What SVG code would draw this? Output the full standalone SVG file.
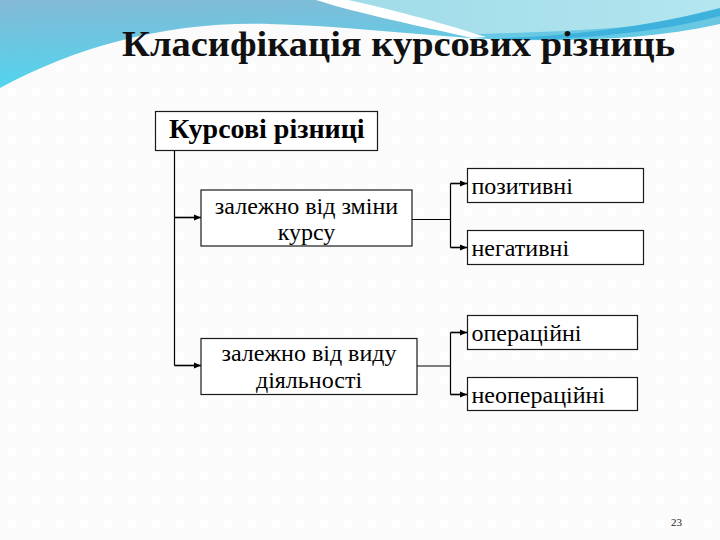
<svg xmlns="http://www.w3.org/2000/svg" width="720" height="540" viewBox="0 0 720 540">
  <defs>
    <pattern id="dots" x="8" y="16" width="24" height="24" patternUnits="userSpaceOnUse">
      <rect x="0" y="0" width="8" height="8" fill="#ffffff"/>
    </pattern>
    <linearGradient id="blueL" x1="0" y1="0" x2="0.25" y2="1">
      <stop offset="0" stop-color="#84b9d5"/>
      <stop offset="1" stop-color="#4fd6f0"/>
    </linearGradient>
    <linearGradient id="blueR" x1="0" y1="0" x2="1" y2="0">
      <stop offset="0" stop-color="#9fdbe8"/>
      <stop offset="1" stop-color="#b3e6ef"/>
    </linearGradient>
    <marker id="arr" markerWidth="8" markerHeight="8" refX="7" refY="4" orient="auto" markerUnits="userSpaceOnUse">
      <path d="M0,1 L7,4 L0,7 Z" fill="#000"/>
    </marker>
    <style>
      .box { fill: #ffffff; stroke: #1a1a1a; stroke-width: 1.2; }
      .t { font-family: 'Liberation Serif', 'DejaVu Serif', serif; font-size: 24px; fill: #000; }
      .tb { font-family: 'Liberation Serif', 'DejaVu Serif', serif; font-size: 28px; font-weight: bold; fill: #000; }
      .ttl { font-family: 'Liberation Serif', 'DejaVu Serif', serif; font-size: 35px; font-weight: bold; fill: #111; }
      .pg { font-family: 'Liberation Serif', 'DejaVu Serif', serif; font-size: 11px; fill: #222; }
      .c { text-anchor: middle; }
      .ln { fill: none; stroke: #000; stroke-width: 1.2; }
      .ar { fill: none; stroke: #000; stroke-width: 1.6; marker-end: url(#arr); }
    </style>
  </defs>

  <!-- background -->
  <rect x="0" y="0" width="720" height="540" fill="#fbfbfb"/>
  <rect x="0" y="0" width="720" height="540" fill="url(#dots)"/>

  <!-- top decorative wave -->
  <path d="M0,0 L720,0 L720,24 C640,42 545,42 470,38 C400,33 340,26 270,24 C170,21 80,45 0,88 Z" fill="url(#blueL)"/>
  <path d="M330,0 L720,0 L720,14 C640,30 540,32 478,34 C420,22 370,8 330,0 Z" fill="url(#blueR)"/>
  <path d="M500,38 C580,36 660,24 720,8 L720,16 C660,32 580,40 505,40 Z" fill="#3eb2dc"/>
  <path d="M316,0 C360,14 420,26 472,38 L486,37 C440,22 385,8 348,0 Z" fill="#ffffff"/>

  <!-- title -->
  <text class="ttl" x="122" y="56" textLength="553" lengthAdjust="spacingAndGlyphs">Класифікація курсових різниць</text>

  <!-- connectors -->
  <g id="connectors">
    <path class="ln" d="M174.5,150.5 V365.5"/>
    <path class="ar" d="M174.5,217.5 H201"/>
    <path class="ar" d="M174.5,365.5 H201"/>
    <path class="ln" d="M412,219.5 H450.5"/>
    <path class="ln" d="M450.5,183.5 V247.5"/>
    <path class="ar" d="M450.5,183.5 H467"/>
    <path class="ar" d="M450.5,247.5 H467"/>
    <path class="ln" d="M417,366 H450.5"/>
    <path class="ln" d="M450.5,332.5 V394.5"/>
    <path class="ar" d="M450.5,332.5 H467"/>
    <path class="ar" d="M450.5,394.5 H467"/>
  </g>

  <!-- nodes -->
  <g id="root">
    <rect class="box" x="155.5" y="111.5" width="222" height="39"/>
    <text class="tb" x="169" y="137.5">Курсові різниці</text>
  </g>
  <g id="by-rate">
    <rect class="box" x="201" y="190" width="211" height="56"/>
    <text class="t c" x="306.5" y="214">залежно від зміни</text>
    <text class="t c" x="306.5" y="240">курсу</text>
  </g>
  <g id="by-activity">
    <rect class="box" x="201" y="338.5" width="216" height="56"/>
    <text class="t c" x="309" y="361">залежно від виду</text>
    <text class="t c" x="309" y="388">діяльності</text>
  </g>
  <g id="positive">
    <rect class="box" x="467.5" y="168.5" width="176" height="34"/>
    <text class="t" x="471.5" y="194">позитивні</text>
  </g>
  <g id="negative">
    <rect class="box" x="467.5" y="230.5" width="176" height="34"/>
    <text class="t" x="471.5" y="255.5">негативні</text>
  </g>
  <g id="operating">
    <rect class="box" x="467.5" y="315.5" width="170" height="34"/>
    <text class="t" x="471.5" y="341">операційні</text>
  </g>
  <g id="non-operating">
    <rect class="box" x="467.5" y="377.5" width="170" height="33"/>
    <text class="t" x="471.5" y="403">неопераційні</text>
  </g>

  <!-- page number -->
  <text class="pg" x="671" y="526">23</text>
</svg>
